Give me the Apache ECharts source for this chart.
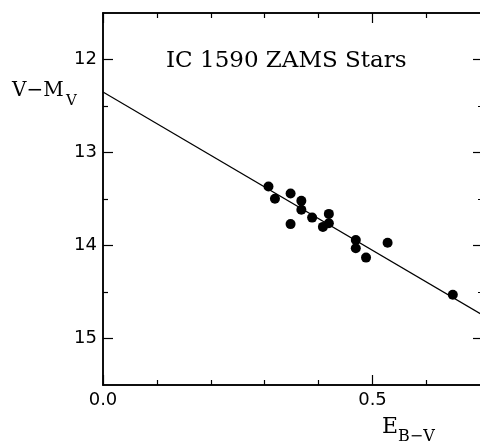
<!DOCTYPE html>
<html>
<head>
<meta charset="utf-8">
<script src="https://cdn.jsdelivr.net/npm/echarts@6/dist/echarts.min.js"></script>
<style>
html,body{margin:0;padding:0;background:#fff;}
#chart{width:480px;height:446px;}
</style>
</head>
<body>
<div id="chart"></div>
<script>
// Data
const STAR_E = [0.307, 0.319, 0.348, 0.348, 0.368, 0.368, 0.388, 0.419, 0.419, 0.408, 0.469, 0.469, 0.488, 0.528, 0.649];
const STAR_V = [13.365, 13.497, 13.44, 13.77, 13.52, 13.615, 13.70, 13.66, 13.76, 13.80, 13.94, 14.03, 14.13, 13.97, 14.53];
const LINE_E = [0.0, 0.705];
const LINE_V = [12.35, 14.75];
const X_MAJOR = [0.0, 0.5];
const X_MINOR = [0.1, 0.2, 0.3, 0.4, 0.6];
const Y_MAJOR = [12, 13, 14, 15];
const Y_MINOR = [12.5, 13.5, 14.5];
const TITLE = 'IC 1590 ZAMS Stars';

const chart = echarts.init(document.getElementById('chart'), null, {renderer: 'canvas'});

const X_MIN = 0, X_MAX = 0.705, Y_MIN = 11.5, Y_MAX = 15.5;
const lineStyle = {color: '#000', width: 1.5};
const labelStyle = {color: '#000', fontFamily: 'DejaVu Sans', fontSize: 18, margin: 6};

function xAx(pos, ticks, len, labels) {
  return {
    type: 'value', position: pos, offset: 0, min: X_MIN, max: X_MAX,
    axisLine: {show: true, onZero: false, lineStyle},
    axisTick: {show: true, inside: true, length: len, customValues: ticks, lineStyle: {color: '#000', width: 1.2}},
    axisLabel: labels ? Object.assign({show: true, customValues: ticks, formatter: v => v.toFixed(1)}, labelStyle) : {show: false},
    splitLine: {show: false}
  };
}
function yAx(pos, ticks, len, labels) {
  return {
    type: 'value', position: pos, offset: 0, min: Y_MIN, max: Y_MAX, inverse: true,
    axisLine: {show: true, onZero: false, lineStyle},
    axisTick: {show: true, inside: true, length: len, customValues: ticks, lineStyle: {color: '#000', width: 1.2}},
    axisLabel: labels ? Object.assign({show: true, customValues: ticks, formatter: v => String(v)}, labelStyle) : {show: false},
    splitLine: {show: false}
  };
}

const option = {
  animation: false,
  backgroundColor: '#fff',
  grid: {left: 103, top: 13, width: 380, height: 372, containLabel: false, outerBoundsMode: 'none'},
  xAxis: [
    xAx('bottom', X_MAJOR, 10, true),
    xAx('bottom', X_MINOR, 5, false),
    xAx('top', X_MAJOR, 10, false),
    xAx('top', X_MINOR, 5, false)
  ],
  yAxis: [
    yAx('left', Y_MAJOR, 10, true),
    yAx('left', Y_MINOR, 5, false),
    yAx('right', Y_MAJOR, 10, false),
    yAx('right', Y_MINOR, 5, false)
  ],
  series: [
    {
      type: 'line', xAxisIndex: 0, yAxisIndex: 0,
      data: LINE_E.map((e, i) => [e, LINE_V[i]]),
      showSymbol: false, symbol: 'none',
      lineStyle: {color: '#000', width: 1.2}, silent: true
    },
    {
      type: 'scatter', xAxisIndex: 0, yAxisIndex: 0,
      data: STAR_E.map((e, i) => [e, STAR_V[i]]),
      symbol: 'circle', symbolSize: 10,
      itemStyle: {color: '#000', opacity: 1}
    }
  ],
  graphic: [
    {type: 'text', left: 166, top: 50, style: {text: TITLE, fill: '#000', font: '23px "DejaVu Serif"'}},
    {type: 'text', left: 12, top: 81, style: {text: 'V\u2212M', fill: '#000', font: '20px "DejaVu Serif"'}},
    {type: 'text', left: 66, top: 94, style: {text: 'V', fill: '#000', font: '15px "DejaVu Serif"'}},
    {type: 'text', left: 382, top: 416, style: {text: 'E', fill: '#000', font: '22px "DejaVu Serif"'}},
    {type: 'text', left: 398, top: 429, style: {text: 'B\u2212V', fill: '#000', font: '16px "DejaVu Serif"'}}
  ]
};
chart.setOption(option);
</script>
</body>
</html>
